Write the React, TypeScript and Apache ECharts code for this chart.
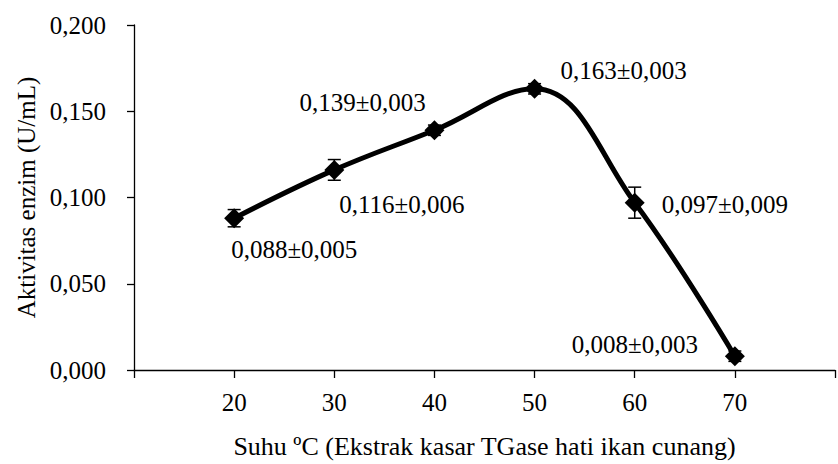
import React, { useEffect, useRef } from "react";
import * as echarts from "echarts";

const temps = [20, 30, 40, 50, 60, 70];
const activity = [0.088, 0.116, 0.139, 0.163, 0.097, 0.008];
const errors = [0.005, 0.006, 0.003, 0.003, 0.009, 0.003];
const xTickLabels = ["20", "30", "40", "50", "60", "70"];
const labelOffsets = [
  [-3, 31],
  [5, 35],
  [-135, -28],
  [26, -18],
  [27, 2],
  [-163, -12],
];

const FONT = "Liberation Serif";
const FS = 25;

const fmt = (v: number) => v.toFixed(3).replace(".", ",");

export default function App() {
  const ref = useRef<HTMLDivElement>(null);
  useEffect(() => {
    document.body.style.margin = "0";
    if (!ref.current) return;
    const chart = echarts.init(ref.current, undefined, { renderer: "svg" });
    const lineData = temps.map((t, i) => ({
      value: [t, activity[i]],
      label: {
        show: true,
        position: "inside",
        align: "left",
        verticalAlign: "middle",
        offset: labelOffsets[i],
        formatter: fmt(activity[i]) + "±" + fmt(errors[i]),
        color: "#000",
        fontFamily: FONT,
        fontSize: FS,
      },
    }));
    const errData = temps.map((t, i) => [t, activity[i] - errors[i], activity[i] + errors[i]]);
    chart.setOption({
      animation: false,
      backgroundColor: "#fff",
      grid: { left: 134, top: 25, bottom: 90, right: -8 },
      xAxis: {
        type: "value",
        min: 10,
        max: 80,
        interval: 10,
        name: "Suhu ºC (Ekstrak kasar TGase hati ikan cunang)",
        nameLocation: "middle",
        nameGap: 63,
        nameTextStyle: { color: "#000", fontFamily: FONT, fontSize: 26 },
        splitLine: { show: false },
        axisLine: { lineStyle: { color: "#000", width: 1.3 } },
        axisTick: { show: true, length: 8, lineStyle: { color: "#000", width: 1.3 } },
        axisLabel: {
          color: "#000",
          fontFamily: FONT,
          fontSize: FS,
          margin: 20,
          formatter: (v: number) => {
            const s = String(v);
            return xTickLabels.includes(s) ? s : "";
          },
        },
      },
      yAxis: {
        type: "value",
        min: 0,
        max: 0.2,
        interval: 0.05,
        name: "Aktivitas enzim (U/mL)",
        nameLocation: "middle",
        nameRotate: 90,
        nameGap: 95,
        nameTextStyle: { color: "#000", fontFamily: FONT, fontSize: FS },
        splitLine: { show: false },
        axisLine: { show: true, lineStyle: { color: "#000", width: 1.3 } },
        axisTick: { show: true, length: 7, lineStyle: { color: "#000", width: 1.3 } },
        axisLabel: {
          color: "#000",
          fontFamily: FONT,
          fontSize: FS,
          margin: 28,
          formatter: (v: number) => fmt(v),
        },
      },
      series: [
        {
          type: "custom",
          z: 1,
          data: errData,
          renderItem: (params: any, api: any) => {
            const x = api.value(0);
            const lo = api.coord([x, api.value(1)]);
            const hi = api.coord([x, api.value(2)]);
            const cw = 6.5;
            const style = { stroke: "#000", lineWidth: 1.5 };
            return {
              type: "group",
              children: [
                { type: "line", shape: { x1: lo[0], y1: lo[1], x2: hi[0], y2: hi[1] }, style },
                { type: "line", shape: { x1: lo[0] - cw, y1: lo[1], x2: lo[0] + cw, y2: lo[1] }, style },
                { type: "line", shape: { x1: hi[0] - cw, y1: hi[1], x2: hi[0] + cw, y2: hi[1] }, style },
              ],
            };
          },
        },
        {
          type: "line",
          z: 2,
          data: lineData,
          smooth: 0.4,
          symbol: "diamond",
          symbolSize: 20,
          lineStyle: { color: "#000", width: 5 },
          itemStyle: { color: "#000" },
        },
      ],
    });
    return () => chart.dispose();
  }, []);
  return <div ref={ref} style={{ width: 838, height: 464 }} />;
}
